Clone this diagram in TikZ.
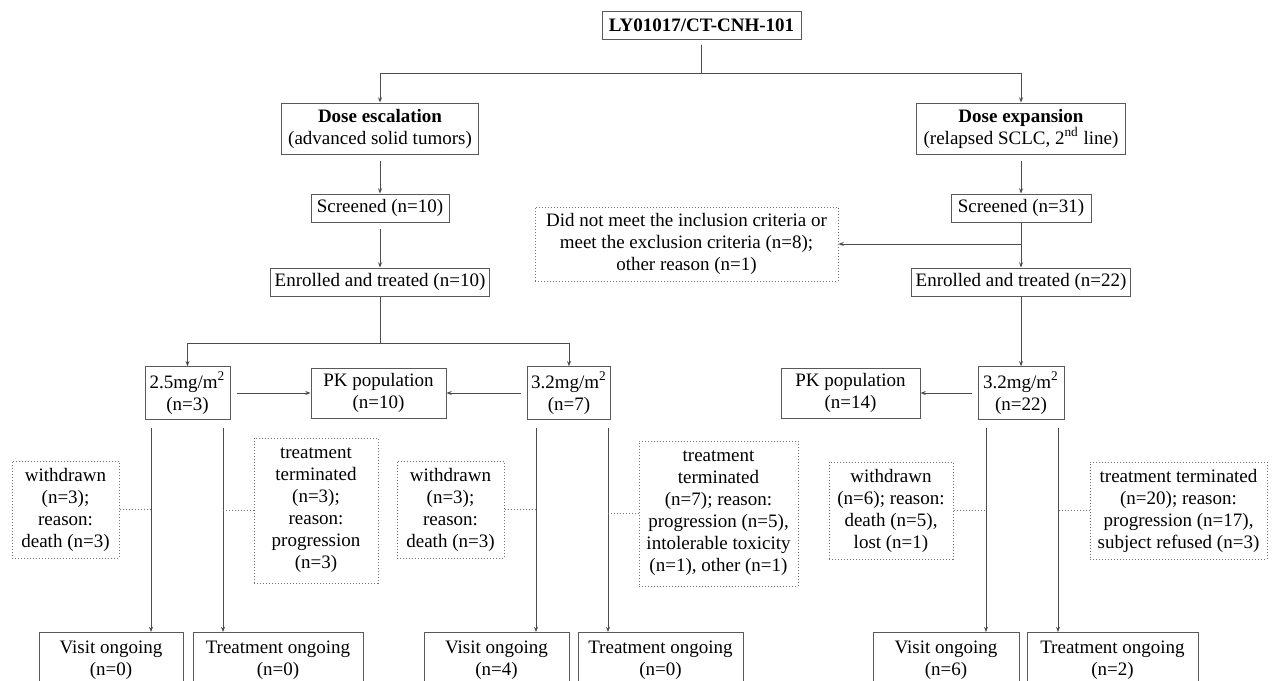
\documentclass[tikz,border=0pt]{standalone}
\usepackage{fontspec}
\setmainfont{Liberation Serif}
\usetikzlibrary{arrows.meta}
\tikzset{
  box/.style={draw=black!65, line width=0.5pt, align=center, inner xsep=2pt, inner ysep=2.5pt},
  dotbox/.style={draw=black!55, densely dotted, line width=0.5pt, align=center, inner xsep=2pt, inner ysep=2.5pt},
  arr/.style={draw=black!70, line width=0.5pt, -{Stealth[length=2.6pt,width=2pt]}},
  ln/.style={draw=black!70, line width=0.5pt},
  dotln/.style={draw=black!55, densely dotted, line width=0.5pt}
}
\begin{document}
\begin{tikzpicture}[x=0.5pt,y=-0.5pt,font=\fontsize{9.5}{11}\selectfont]
\useasboundingbox (0,0) rectangle (1272,680);

\node[box, minimum width=99.5pt, minimum height=14pt] (top) at (701.5,25) {\textbf{LY01017/CT-CNH-101}};
\node[box, minimum width=98.5pt, minimum height=25.5pt] (esc) at (380,128.5) {\textbf{Dose escalation}\\(advanced solid tumors)};
\node[box, minimum width=104.5pt, minimum height=25.5pt] (exp) at (1021,128.5) {\textbf{Dose expansion}\\(relapsed SCLC, 2\textsuperscript{nd} line)};

\node[box, minimum width=69pt, minimum height=14pt] (scr1) at (380,208) {Screened (n=10)};
\node[box, minimum width=109pt, minimum height=14pt] (enr1) at (380,282) {Enrolled and treated (n=10)};
\node[box, minimum width=70pt, minimum height=14pt] (scr2) at (1021,208) {Screened (n=31)};
\node[box, minimum width=109.5pt, minimum height=14pt] (enr2) at (1021,282) {Enrolled and treated (n=22)};
\node[dotbox, minimum width=151.5pt, minimum height=37pt] (excl) at (686.5,244) {Did not meet the inclusion criteria or\\meet the exclusion criteria (n=8);\\other reason (n=1)};

\node[box, minimum width=42.5pt, minimum height=25pt] (d25) at (187.5,393) {2.5mg/m\textsuperscript{2}\\(n=3)};
\node[box, minimum width=67.5pt, minimum height=25pt] (pk1) at (378.5,393) {PK population\\(n=10)};
\node[box, minimum width=40pt, minimum height=25pt] (d32a) at (569,393) {3.2mg/m\textsuperscript{2}\\(n=7)};
\node[box, minimum width=69.5pt, minimum height=25pt] (pk2) at (850.5,393) {PK population\\(n=14)};
\node[box, minimum width=43pt, minimum height=25.5pt] (d32b) at (1021,393) {3.2mg/m\textsuperscript{2}\\(n=22)};

\node[dotbox, minimum width=53.5pt, minimum height=48.5pt] (wd1) at (65.5,509.5) {withdrawn\\(n=3);\\reason:\\death (n=3)};
\node[dotbox, minimum width=62pt, minimum height=72.5pt] (tt1) at (316,510.5) {treatment\\terminated\\(n=3);\\reason:\\progression\\(n=3)};
\node[dotbox, minimum width=53.5pt, minimum height=48.5pt] (wd2) at (450.5,509.5) {withdrawn\\(n=3);\\reason:\\death (n=3)};
\node[dotbox, minimum width=79.5pt, minimum height=72.5pt] (tt2) at (718.5,513.5) {treatment\\terminated\\(n=7); reason:\\progression (n=5),\\intolerable toxicity\\(n=1), other (n=1)};
\node[dotbox, minimum width=62pt, minimum height=48.5pt] (wd3) at (891,510.5) {withdrawn\\(n=6); reason:\\death (n=5),\\lost (n=1)};
\node[dotbox, minimum width=88.5pt, minimum height=48.5pt] (tt3) at (1178.5,510.5) {treatment terminated\\(n=20); reason:\\progression (n=17),\\subject refused (n=3)};

\node[box, anchor=north, minimum width=72pt, minimum height=28pt] (v1) at (111,632) {Visit ongoing\\(n=0)};
\node[box, anchor=north, minimum width=85pt, minimum height=28pt] (t1) at (278,632) {Treatment ongoing\\(n=0)};
\node[box, anchor=north, minimum width=72.5pt, minimum height=28pt] (v2) at (496.5,632) {Visit ongoing\\(n=4)};
\node[box, anchor=north, minimum width=82.5pt, minimum height=28pt] (t2) at (660.5,632) {Treatment ongoing\\(n=0)};
\node[box, anchor=north, minimum width=73pt, minimum height=28pt] (v3) at (946,632) {Visit ongoing\\(n=6)};
\node[box, anchor=north, minimum width=85.5pt, minimum height=28pt] (t3) at (1112.5,632) {Treatment ongoing\\(n=2)};

\coordinate (j0) at (701.5,73);
\coordinate (j1) at (380,343);
\coordinate (j2) at (1021,244);
\coordinate (a1) at (151,428);
\coordinate (a2) at (223,428);
\coordinate (a3) at (536,428);
\coordinate (a4) at (608,428);
\coordinate (a5) at (986,428);
\coordinate (a6) at (1058,428);

\draw[ln, shorten <=2.5pt] (top) -- (j0);
\draw[arr] (j0) -| (esc);
\draw[arr] (j0) -| (exp);
\draw[arr, shorten <=3pt] (esc) -- (scr1);
\draw[arr, shorten <=3pt] (scr1) -- (enr1);
\draw[ln] (enr1) -- (j1);
\draw[arr] (j1) -| (d25);
\draw[arr] (j1) -| (d32a);
\draw[arr, shorten <=3pt] (exp) -- (scr2);
\draw[arr] (scr2) -- (enr2);
\draw[arr] (j2) -- (excl);
\draw[arr] (enr2) -- (d32b);
\draw[arr, shorten <=3pt] (d25) -- (pk1);
\draw[arr, shorten <=3pt] (d32a) -- (pk1);
\draw[arr, shorten <=3pt] (d32b) -- (pk2);

\draw[arr] (a1) -- (a1 |- v1.north);
\draw[arr] (a2) -- (a2 |- t1.north);
\draw[arr] (a3) -- (a3 |- v2.north);
\draw[arr] (a4) -- (a4 |- t2.north);
\draw[arr] (a5) -- (a5 |- v3.north);
\draw[arr] (a6) -- (a6 |- t3.north);

\draw[dotln] (wd1.east) -- (wd1.east -| a1);
\draw[dotln] (tt1.west) -- (tt1.west -| a2);
\draw[dotln] (wd2.east) -- (wd2.east -| a3);
\draw[dotln] (tt2.west) -- (tt2.west -| a4);
\draw[dotln] (wd3.east) -- (wd3.east -| a5);
\draw[dotln] (tt3.west) -- (tt3.west -| a6);
\end{tikzpicture}
\end{document}
